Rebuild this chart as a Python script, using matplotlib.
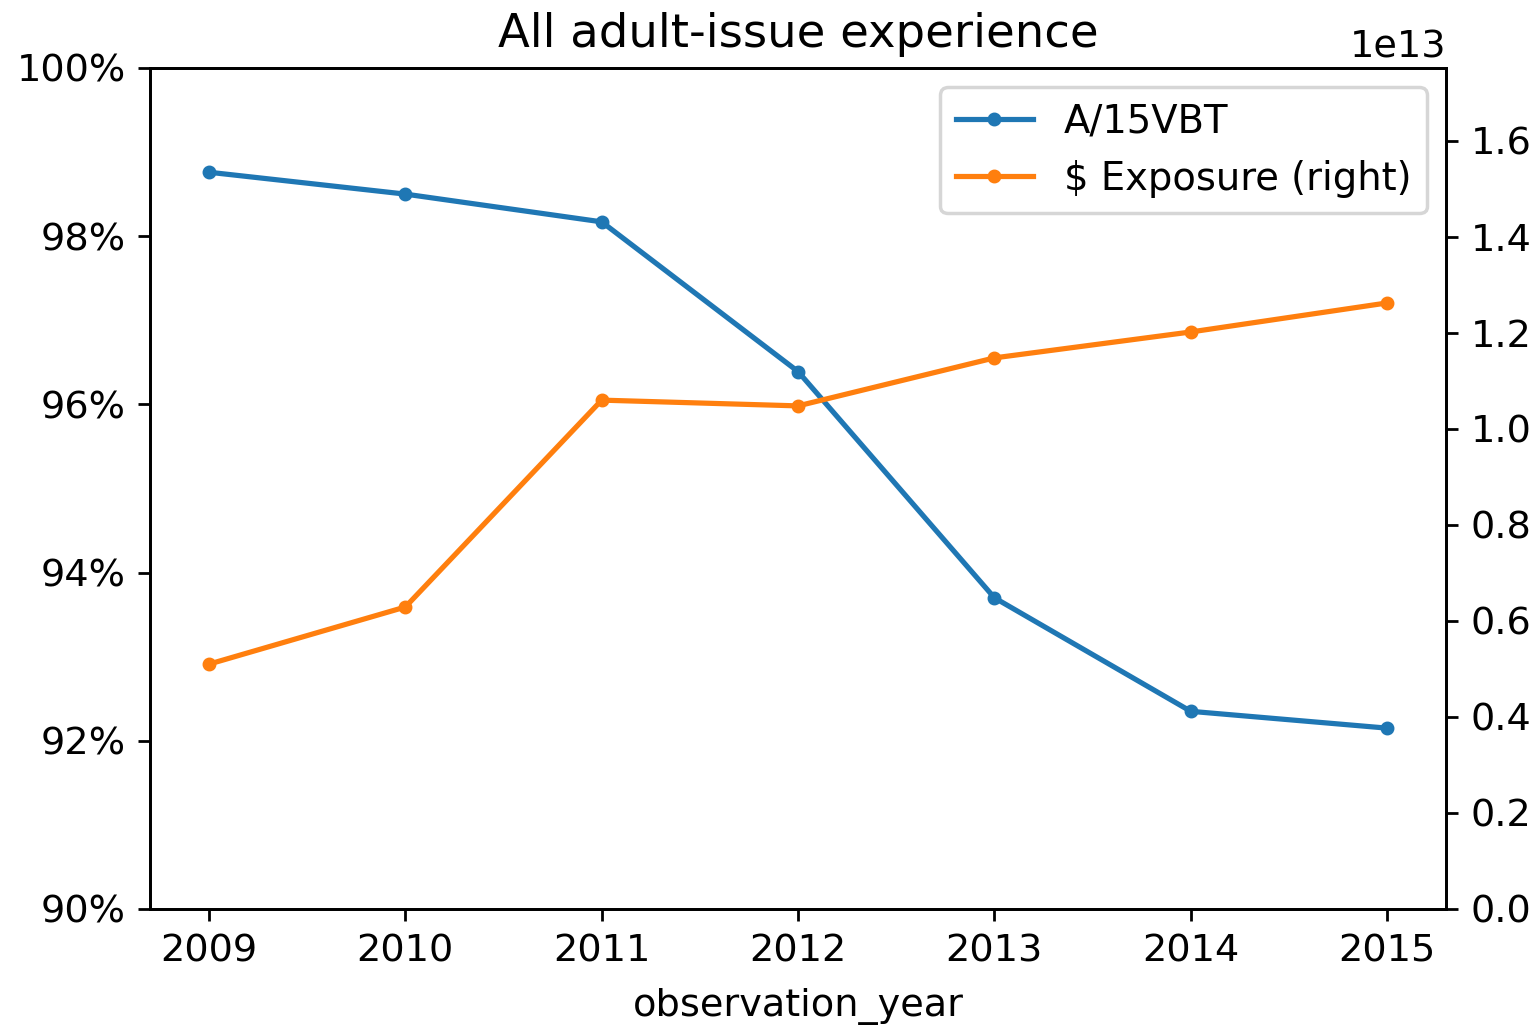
import numpy as np
import pandas as pd
import matplotlib
matplotlib.use('Agg')
import matplotlib.pyplot as plt
from matplotlib.ticker import PercentFormatter

# data
years = [2009, 2010, 2011, 2012, 2013, 2014, 2015]
ae_ratio = [0.9876, 0.9850, 0.9817, 0.9639, 0.9370, 0.9235, 0.9215]
exposure = [0.510e13, 0.629e13, 1.060e13, 1.048e13, 1.148e13, 1.202e13, 1.2625e13]

plt.rcParams['font.size'] = 11

fig = plt.figure(figsize=(6.156, 4.112), dpi=250)
ax = fig.add_axes([0.0975, 0.1158, 0.8421, 0.8181])

l1, = ax.plot(years, ae_ratio, marker='.', color='tab:blue', label='A/15VBT')
ax.set_ylim(0.90, 1.00)
ax.yaxis.set_major_formatter(PercentFormatter(1.0, decimals=0))
ax.set_xlabel('observation_year', labelpad=5.5)
ax.set_title('All adult-issue experience', fontsize=13.4)

ax2 = ax.twinx()
l2, = ax2.plot(years, exposure, marker='.', color='tab:orange', label='$ Exposure (right)')
ax2.set_ylim(0, 1.752e13)

ax.set_xticks(years)
ax.set_xlim(2008.7, 2015.3)

ax2.legend([l1, l2], ['A/15VBT', '\\$ Exposure (right)'], loc='upper right', fontsize=11.1)

fig.savefig('out.png', dpi=250)
